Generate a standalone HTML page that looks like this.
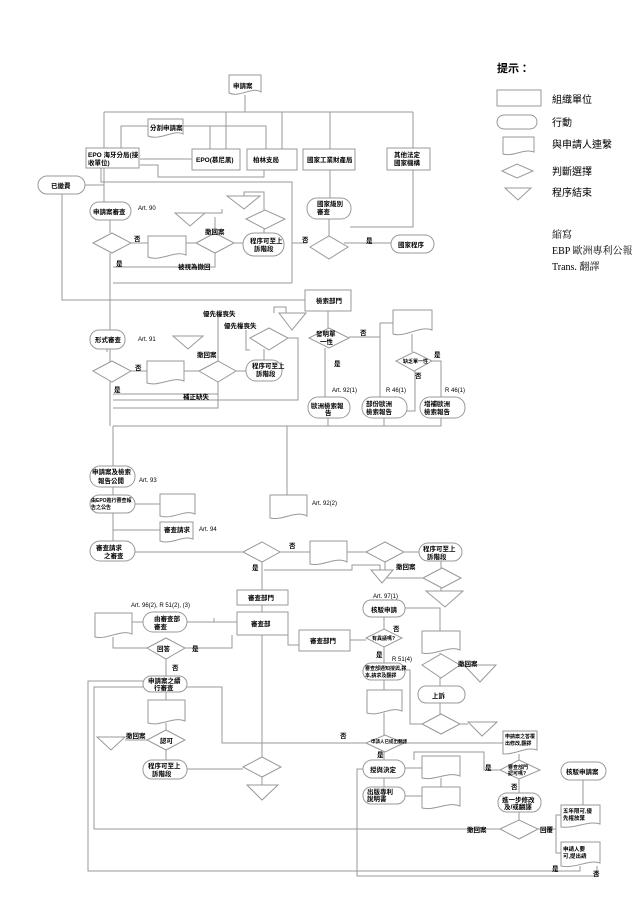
<!DOCTYPE html>
<html><head><meta charset="utf-8"><style>
html,body{margin:0;padding:0;background:#fff;}
svg{display:block;}
text{font-family:"Liberation Sans","Noto Sans CJK TC",sans-serif;font-size:6.5px;font-weight:bold;fill:#000;}
.t{font-weight:normal;font-size:6px;}
.s{fill:#fff;stroke:#999;stroke-width:1;}
.l{fill:none;stroke:#999;stroke-width:1;}
.lg text{font-weight:normal;font-size:10px;}
</style></head><body>
<svg width="642" height="908" viewBox="0 0 642 908" xmlns="http://www.w3.org/2000/svg">
<!-- ===== connectors ===== -->
<g class="l">
<path d="M245 95V112M104 112H413M104 112V148M226 112V149M282 112V149M330 112V149M413 112V148"/>
<path d="M148 126H121V148M183 126H266V149M210 126V149"/>
<path d="M192 159H140M264 170V177H158V165H140M104 168V202M85 185H104M101 168V182H292V283"/>
<path d="M110 220V233M110 253V426M131 243H148M186 243H196M234 243H243M215 253V267H113M292 283H113M264 229V233M264 210V192H244V196M222 209V213H193M215 233V217"/>
<path d="M330 170V198M413 170V227H350M329 218V236M307 243H292V283M344 243H391"/>
<path d="M62 194V300H305M328 311V328"/>
<path d="M107 349V352M131 371H147M184 371H199M236 371H246M218 381V394H113M218 361V315M218 381V408H113M264 349V360M246 330V350H250M288 338H298V400H113M286 318V307H274V313"/>
<path d="M349 337H380M325 348V397M380 323H393M380 323V397M412 334V352M432 361H441V397M415 371V411H380M328 418V426M384 418V426M441 418V426H113M287 426V495"/>
<path d="M113 426V466M113 487V495M135 504H160M113 513V541M160 530H113M135 552H243M262 562V590M280 552H310M347 552H366M385 562V570M404 552H419M441 561V568M441 588V591M423 578H380V565H352V570H264"/>
<path d="M262 605V612M237 622H187M143 622H132M113 637V648H147M185 648H232V635M166 659V676M214 622V618M262 635V741M262 741V757M288 625V645H299M350 640H366M384 629V617M384 647V663"/>
<path d="M405 608H440V631M384 680V690M384 713V735M440 653V654M440 678V686M440 703V714M460 665H470M460 724H468M422 724H410V670H405M166 692V700M166 723V730M147 740H125M166 750V760M187 769H243M262 777V785"/>
<path d="M384 752V760M405 768H422M384 778V787M405 796H422M441 778V787M366 743H222V687H187M404 743H503M519 754V760M500 770H484V752H414V760M519 779V793M519 812V820M500 829H94V687H143M538 829H556V815H561M556 829V853H561"/>
<path d="M583 805V780M580 866V871H88V681H143M597 866V876H357V769H363M362 769H357"/>
</g>
<!-- ===== shapes ===== -->
<g class="s">
<path d="M229 75H261V92C252 86 240 98 229 93Z"/>
<path d="M148 119H183V134C174 129 160 141 148 136Z"/>
<rect x="86" y="148" width="53" height="20"/>
<rect x="192" y="149" width="48" height="21"/>
<rect x="247" y="149" width="50" height="21"/>
<rect x="303" y="149" width="52" height="21"/>
<rect x="387" y="148" width="43" height="22"/>
<rect x="38" y="176" width="47" height="18" rx="9"/>
<rect x="90" y="202" width="41" height="18" rx="9"/>
<path d="M93 243L112 233L131 243L112 253Z"/>
<path d="M148 236H186V255C175 250 160 262 148 257Z"/>
<path d="M196 243L215 233L234 243L215 253Z"/>
<rect x="243" y="233" width="41" height="23" rx="11"/>
<path d="M175 213H205L190 226Z"/>
<path d="M227 196H260L244 209Z"/>
<path d="M246 219L265 210L285 219L265 229Z"/>
<rect x="307" y="198" width="44" height="21" rx="10"/>
<path d="M310 247L329 236L348 247L329 259Z"/>
<rect x="391" y="235" width="43" height="18" rx="9"/>
<rect x="305" y="290" width="46" height="21"/>
<rect x="90" y="330" width="35" height="19" rx="9"/>
<path d="M93 371L112 361L131 371L112 382Z"/>
<path d="M147 361H184V381C173 376 159 387 147 383Z"/>
<path d="M199 371L218 361L236 371L218 382Z"/>
<rect x="246" y="360" width="36" height="21" rx="10"/>
<path d="M173 336H203L188 349Z"/>
<path d="M250 338L269 328L288 338L269 350Z"/>
<path d="M279 313H306L292 330Z"/>
<path d="M309 338L329 328L349 338L329 348Z"/>
<path d="M393 310H432V330C420 325 405 338 393 334Z"/>
<path d="M396 361L414 352L432 361L414 371Z"/>
<rect x="308" y="397" width="42" height="21" rx="10"/>
<rect x="362" y="397" width="45" height="21" rx="10"/>
<rect x="420" y="397" width="45" height="21" rx="10"/>
<path d="M270 495H307V516C296 510 282 521 270 518Z"/>
<rect x="90" y="466" width="45" height="21" rx="10"/>
<rect x="90" y="495" width="45" height="18" rx="9"/>
<path d="M160 494H195V514C185 509 172 520 160 516Z"/>
<path d="M160 522H193V539C183 535 171 545 160 541Z"/>
<rect x="90" y="541" width="45" height="20" rx="10"/>
<path d="M243 552L262 542L280 552L262 562Z"/>
<path d="M310 541H347V562C336 556 322 567 310 564Z"/>
<path d="M366 552L385 542L404 552L385 562Z"/>
<rect x="419" y="543" width="43" height="18" rx="9"/>
<path d="M371 570H393L382 583Z"/>
<path d="M423 578L442 568L461 578L442 588Z"/>
<path d="M426 591H463L445 607Z"/>
<rect x="237" y="590" width="51" height="15"/>
<rect x="237" y="612" width="51" height="23"/>
<rect x="143" y="612" width="44" height="20" rx="10"/>
<path d="M95 613H132V634C121 629 107 640 95 637Z"/>
<path d="M147 648L166 638L185 648L166 659Z"/>
<rect x="299" y="630" width="51" height="21"/>
<path d="M366 638L384 629L402 638L384 647Z"/>
<rect x="363" y="600" width="42" height="17" rx="8"/>
<rect x="363" y="663" width="42" height="17" rx="8"/>
<rect x="143" y="676" width="44" height="16" rx="8"/>
<path d="M148 700H185V721C174 716 160 727 148 723Z"/>
<path d="M147 740L166 730L185 740L166 750Z"/>
<path d="M97 737H125L111 750Z"/>
<rect x="143" y="760" width="44" height="19" rx="9"/>
<path d="M243 767L262 757L281 767L262 777Z"/>
<path d="M247 785H278L262 800Z"/>
<path d="M367 690H402V711C391 706 379 717 367 713Z"/>
<path d="M366 743L385 735L404 743L385 752Z"/>
<rect x="363" y="760" width="42" height="18" rx="9"/>
<path d="M422 756H460V776C449 771 435 781 422 778Z"/>
<rect x="363" y="787" width="42" height="17" rx="8"/>
<path d="M422 787H460V806C449 801 435 811 422 808Z"/>
<path d="M422 631H460V650C449 645 435 656 422 653Z"/>
<path d="M422 665L441 654L460 665L441 678Z"/>
<path d="M464 665H496L480 682Z"/>
<rect x="418" y="686" width="47" height="17" rx="8"/>
<path d="M422 724L441 714L460 724L441 734Z"/>
<path d="M468 722H497L482 736Z"/>
<path d="M503 731H537V750C527 746 515 755 503 754Z"/>
<path d="M500 770L519 760L540 770L519 779Z"/>
<rect x="498" y="793" width="43" height="19" rx="9"/>
<path d="M500 829L519 820L538 829L519 839Z"/>
<rect x="561" y="762" width="45" height="18" rx="9"/>
<path d="M561 805H600V824C589 820 575 829 561 827Z"/>
<path d="M561 842H600V863C589 859 575 869 561 866Z"/>
</g>
<!-- ===== labels ===== -->
<text x="233" y="88">申請案</text>
<text x="150" y="130">分割申請案</text>
<text x="88" y="157">EPO 海牙分局(接</text><text x="88" y="165">收單位)</text>
<text x="196" y="162">EPO(慕尼黑)</text>
<text x="253" y="162">柏林支局</text>
<text x="307" y="162">國家工業財產局</text>
<text x="394" y="157">其他法定</text><text x="394" y="165">國家機構</text>
<text x="51" y="188">已繳費</text>
<text x="93" y="214">申請案審查</text><text class="t" x="138" y="210">Art. 90</text>
<text x="134" y="241">否</text><text x="116" y="266">是</text>
<text x="205" y="234">撤回案</text><text x="178" y="269">被視為撤回</text>
<text x="250" y="243">程序可至上</text><text x="254" y="251">訴階段</text>
<text x="317" y="206">國家級別</text><text x="317" y="214">審查</text>
<text x="302" y="242">否</text><text x="366" y="243">是</text>
<text x="398" y="247">國家程序</text>
<text x="316" y="303">檢索部門</text>
<text x="95" y="342">形式審查</text><text class="t" x="138" y="341">Art. 91</text>
<text x="135" y="370">否</text><text x="114" y="392">是</text>
<text x="197" y="357">撤回案</text><text x="183" y="399">補正缺失</text>
<text x="203" y="316">優先權喪失</text><text x="224" y="328">優先權喪失</text>
<text x="252" y="368">程序可至上</text><text x="256" y="376">訴階段</text>
<text x="316" y="336">發明單</text><text x="320" y="344">一性</text>
<text x="360" y="335">否</text><text x="334" y="366">是</text>
<text style="font-size:5px" x="403" y="363">缺乏單一性</text>
<text x="434" y="357">是</text><text x="415" y="378">否</text>
<text class="t" x="332" y="392">Art. 92(1)</text><text class="t" x="386" y="392">R 46(1)</text><text class="t" x="445" y="392">R 46(1)</text>
<text x="311" y="408">歐洲檢索報</text><text x="325" y="415">告</text>
<text x="366" y="406">部份歐洲</text><text x="366" y="414">檢索報告</text>
<text x="424" y="406">增補歐洲</text><text x="424" y="414">檢索報告</text>
<text x="92" y="474">申請案及檢索</text><text x="98" y="483">報告公開</text><text class="t" x="139" y="482">Art. 93</text>
<text class="t" x="312" y="505">Art. 92(2)</text>
<text style="font-size:5px" x="91" y="502">由EPO進行審查報</text><text style="font-size:5px" x="91" y="509">告之公告</text>
<text x="164" y="532">審查請求</text><text class="t" x="199" y="531">Art. 94</text>
<text x="96" y="550">審查請求</text><text x="104" y="558">之審查</text>
<text x="289" y="548">否</text><text x="252" y="570">是</text>
<text x="423" y="551">程序可至上</text><text x="427" y="559">訴階段</text>
<text x="396" y="569">撤回案</text>
<text x="248" y="600">審查部門</text>
<text x="251" y="626">審查部</text>
<text class="t" x="131" y="607">Art. 96(2), R 51(2), (3)</text>
<text x="154" y="621">由審查部</text><text x="154" y="629">審查</text>
<text x="157" y="651">回答</text><text x="192" y="651">是</text><text x="172" y="670">否</text>
<text x="310" y="643">審查部門</text>
<text style="font-size:5px" x="372" y="640">有異議嗎?</text>
<text x="393" y="631">否</text><text x="376" y="657">是</text>
<text class="t" x="373" y="598">Art. 97(1)</text><text x="371" y="612">核駁申請</text>
<text class="t" x="392" y="661">R 51(4)</text>
<text style="font-size:5px" x="365" y="670">審查部通知授與,譯</text><text style="font-size:5px" x="365" y="677">本,請求及翻譯</text>
<text x="148" y="683">申請案之續</text><text x="154" y="690">行審查</text>
<text x="160" y="743">認可</text><text x="126" y="738">撤回案</text>
<text x="148" y="768">程序可至上</text><text x="152" y="776">訴階段</text>
<text x="340" y="738">否</text>
<text style="font-size:4.5px" x="371" y="743">申請人已提出翻譯</text>
<text x="377" y="757">是</text>
<text x="370" y="772">授與決定</text>
<text x="367" y="794">出版專利</text><text x="367" y="801">說明書</text>
<text x="458" y="666">撤回案</text>
<text x="432" y="698">上訴</text>
<text style="font-size:5px" x="505" y="738">申請案之答覆</text><text style="font-size:5px" x="505" y="745">出修改,翻譯</text>
<text x="485" y="770">是</text><text style="font-size:5px" x="508" y="769">審查部門</text><text style="font-size:5px" x="508" y="775">認可嗎?</text>
<text x="511" y="789">否</text>
<text x="502" y="802">進一步修改</text><text x="504" y="809">及/或翻譯</text>
<text x="467" y="832">撤回案</text><text x="540" y="832">回覆</text>
<text x="566" y="774">核駁申請案</text>
<text style="font-size:5.5px" x="563" y="813">五年限可,優</text><text style="font-size:5.5px" x="563" y="820">先權放棄</text>
<text style="font-size:5.5px" x="563" y="851">申請人要</text><text style="font-size:5.5px" x="563" y="858">可,提出請</text>
<text x="552" y="871">是</text><text x="593" y="876">否</text>
<!-- ===== legend ===== -->
<g class="lg">
<text x="497" y="72" style="font-weight:bold;font-size:11px">提示：</text>
<rect class="s" x="497" y="90" width="44" height="16"/>
<text x="552" y="103">組織單位</text>
<rect class="s" x="497" y="115" width="40" height="14" rx="7"/>
<text x="552" y="126">行動</text>
<path class="s" d="M503 137H534V152C524 148 514 157 503 154Z"/>
<text x="552" y="148">與申請人連繫</text>
<path class="s" d="M502 171L517 164L533 171L517 178Z"/>
<text x="552" y="175">判斷選擇</text>
<path class="s" d="M505 188H531L518 200Z"/>
<text x="552" y="196">程序結束</text>
<text x="552" y="238" style="font-family:'Liberation Serif','Noto Serif CJK SC',serif">縮寫</text>
<text x="552" y="254" style="font-family:'Liberation Serif','Noto Serif CJK SC',serif">EBP 歐洲專利公報</text>
<text x="552" y="270" style="font-family:'Liberation Serif','Noto Serif CJK SC',serif">Trans. 翻譯</text>
</g>
</svg>
</body></html>
